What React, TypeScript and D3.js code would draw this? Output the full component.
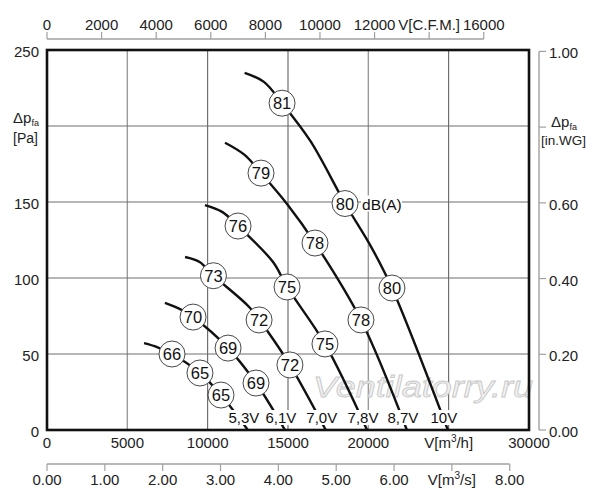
import React from 'react';
import * as d3 from 'd3';

// flow axis (m³/h) and pressure axis (Pa)
const flowTicks = [0, 5000, 10000, 15000, 20000, 25000, 30000];
const flowLabels = ['0', '5000', '10000', '15000', '20000', 'V[m³/h]', '30000'];
const pressureTicks = [0, 50, 100, 150, 200, 250];
const pressureLabels = ['0', '50', '100', '150', '', '250'];

// secondary axes
const cfmTicks = [0, 2000, 4000, 6000, 8000, 10000, 12000, 14000, 16000];
const cfmLabels = ['0', '2000', '4000', '6000', '8000', '10000', '12000', 'V[C.F.M.]', '16000'];
const m3sTicks = [0, 1, 2, 3, 4, 5, 6, 7, 8];
const m3sLabels = ['0.00', '1.00', '2.00', '3.00', '4.00', '5.00', '6.00', 'V[m³/s]', '8.00'];
const inwgTicks = [0, 0.2, 0.4, 0.6, 0.8, 1.0];
const inwgLabels = ['0.00', '0.20', '0.40', '0.60', '', '1.00'];

const voltages = ['5,3V', '6,1V', '7,0V', '7,8V', '8,7V', '10V'];

// curve points [flow m³/h, pressure Pa]
const curve53 = [[6040, 57.2], [6850, 54.6], [7780, 50], [9520, 37.5], [10830, 23], [12500, 0]];
const curve61 = [[7340, 83.6], [8400, 78.9], [9090, 74.3], [11270, 53.9], [13010, 30.9], [14810, 0]];
const curve70 = [[8590, 113.8], [9500, 110.5], [10360, 101.5], [12640, 80.3], [13760, 64.5], [15120, 42.8], [17350, 0]];
const curve78 = [[9830, 148], [10900, 143.5], [11890, 134.2], [14070, 110.5], [14940, 94.1], [17300, 56.6], [19920, 0]];
const curve87 = [[11080, 189], [12300, 181], [13320, 169], [14940, 148.7], [16680, 123], [19540, 72.4], [22400, 0]];
const curve10 = [[12300, 235], [13500, 229], [14630, 215], [16400, 190], [18550, 149], [20200, 120], [21470, 93.4], [24950, 0]];
const curves = [curve53, curve61, curve70, curve78, curve87, curve10];

// sound level markers [flow, pressure, dB(A)]
const markers53 = [[7780, 50, 66], [9520, 37.5, 65], [10830, 23, 65]];
const markers61 = [[9090, 74.3, 70], [11270, 53.9, 69], [13010, 30.9, 69]];
const markers70 = [[10360, 101.5, 73], [13200, 72.4, 72], [15120, 42.8, 72]];
const markers78 = [[11890, 134.2, 76], [14940, 94.1, 75], [17300, 56.6, 75]];
const markers87 = [[13320, 169, 79], [16680, 123, 78], [19540, 72.4, 78]];
const markers10 = [[14630, 215, 81], [18550, 149, 80], [21470, 93.4, 80]];
const markers = [markers53, markers61, markers70, markers78, markers87, markers10];

const FONT = '"Liberation Sans", Arial, sans-serif';

const x = d3.scaleLinear().domain([0, 30000]).range([47, 529]);
const y = d3.scaleLinear().domain([0, 250]).range([430, 50]);
const xCfm = d3.scaleLinear().domain([0, 16000]).range([x(0), x(16000 * 1.699)]);
const xM3s = d3.scaleLinear().domain([0, 8]).range([x(0), x(8 * 3600)]);
const yInwg = d3.scaleLinear().domain([0, 1]).range([y(0), y(249.09)]);

const line = d3.line<number[]>()
  .x(d => x(d[0]))
  .y(d => y(d[1]))
  .curve(d3.curveCatmullRom.alpha(0.5));

const App: React.FC = () => {
  return (
    <svg width={600} height={500} style={{ position: 'absolute', left: 0, top: 0, background: '#fff' }} fontFamily={FONT}>
      {/* grid */}
      {flowTicks.slice(1, -1).map(t => (
        <line key={'vx' + t} x1={x(t)} x2={x(t)} y1={y(0)} y2={y(250)}
          stroke={t === 5000 || t === 20000 ? '#9a9a9a' : '#555'} strokeWidth={t === 5000 || t === 20000 ? 1.4 : 1} />
      ))}
      {pressureTicks.slice(1, -1).map(t => (
        <line key={'hy' + t} x1={x(0)} x2={x(30000)} y1={y(t)} y2={y(t)} stroke="#6e6e6e" strokeWidth={1} />
      ))}

      <text x={313} y={397} fontSize={30} fontStyle="italic" textLength={220} lengthAdjust="spacingAndGlyphs"
        fill="#f1f1f1" stroke="#c8c8c8" strokeWidth={0.8}>Ventilatorry.ru</text>

      {/* curves */}
      {curves.map((c, i) => (
        <path key={'c' + i} d={line(c) || ''} fill="none" stroke="#111" strokeWidth={2.4} />
      ))}

      {/* voltage labels */}
      {curves.map((c, i) => {
        const end = c[c.length - 1];
        const cx = x(end[0]) - 4;
        const w = voltages[i].length * 8;
        return (
          <g key={'v' + i}>
            <rect x={cx - w / 2} y={410} width={w} height={15} fill="#fff" />
            <text x={cx} y={423} fontSize={15} textAnchor="middle" fill="#111">{voltages[i]}</text>
          </g>
        );
      })}

      {/* dB(A) markers */}
      {markers.map((ms, i) => ms.map((m, j) => (
        <g key={'m' + i + '-' + j} transform={`translate(${x(m[0])},${y(m[1])})`}>
          <circle r={13} fill="#fff" stroke="#333" strokeWidth={0.9} />
          <text y={6} fontSize={16.5} textAnchor="middle" fill="#111">{m[2]}</text>
        </g>
      )))}
      <rect x={x(18550) + 16} y={y(149) - 8} width={41} height={16} fill="#fff" />
      <text x={x(18550) + 17} y={y(149) + 6} fontSize={15.5} fill="#111">dB(A)</text>

      {/* plot frame */}
      <rect x={x(0)} y={y(250)} width={x(30000) - x(0)} height={y(0) - y(250)} fill="none" stroke="#111" strokeWidth={2.6} />

      {/* main axis labels */}
      {flowTicks.map((t, i) => (
        <text key={'fl' + t} x={x(t)} y={448} fontSize={15} textAnchor="middle" fill="#222">
          {flowLabels[i] === 'V[m³/h]' ? <>V[m<tspan fontSize={10} dy={-6}>3</tspan><tspan dy={6}>/h]</tspan></> : flowLabels[i]}
        </text>
      ))}
      {pressureTicks.map((t, i) => (
        <text key={'pl' + t} x={39} y={y(t) + 7} fontSize={15} textAnchor="end" fill="#222">{pressureLabels[i]}</text>
      ))}
      <text x={13} y={123} fontSize={15} fill="#222">Δp<tspan fontSize={9} dy={3}>fa</tspan></text>
      <text x={13} y={143} fontSize={14} fill="#222">[Pa]</text>

      {/* top CFM axis */}
      <line x1={xCfm(0)} x2={xCfm(16000)} y1={39} y2={39} stroke="#a0a0a0" strokeWidth={1.4} />
      {cfmTicks.map((t, i) => (
        <g key={'cf' + t}>
          <line x1={xCfm(t)} x2={xCfm(t)} y1={39} y2={32} stroke="#a0a0a0" strokeWidth={1.2} />
          <text x={xCfm(t)} y={30} fontSize={15} textAnchor="middle" fill="#222">{cfmLabels[i]}</text>
        </g>
      ))}

      {/* bottom m³/s axis */}
      <line x1={xM3s(0)} x2={xM3s(8)} y1={464} y2={464} stroke="#a0a0a0" strokeWidth={1.4} />
      {m3sTicks.map((t, i) => (
        <g key={'ms' + t}>
          <line x1={xM3s(t)} x2={xM3s(t)} y1={464} y2={471} stroke="#a0a0a0" strokeWidth={1.2} />
          <text x={xM3s(t)} y={485} fontSize={15} textAnchor="middle" fill="#222">
            {m3sLabels[i] === 'V[m³/s]' ? <>V[m<tspan fontSize={10} dy={-6}>3</tspan><tspan dy={6}>/s]</tspan></> : m3sLabels[i]}
          </text>
        </g>
      ))}

      {/* right in.WG axis */}
      <line x1={539} x2={539} y1={yInwg(0)} y2={yInwg(1)} stroke="#a0a0a0" strokeWidth={1.4} />
      {inwgTicks.map((t, i) => (
        <g key={'iw' + t}>
          <line x1={539} x2={546} y1={yInwg(t)} y2={yInwg(t)} stroke="#a0a0a0" strokeWidth={1.2} />
          <text x={549} y={yInwg(t) + 7} fontSize={15} fill="#222">{inwgLabels[i]}</text>
        </g>
      ))}
      <text x={551} y={127} fontSize={15} fill="#222">Δp<tspan fontSize={9} dy={3}>fa</tspan></text>
      <text x={541} y={145} fontSize={13.5} fill="#222">[in.WG]</text>
    </svg>
  );
};

export default App;
